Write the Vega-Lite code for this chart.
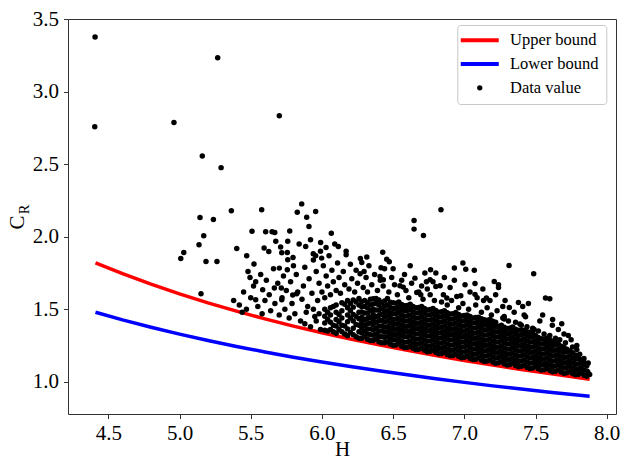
{
"$schema":"https://vega.github.io/schema/vega-lite/v6.json",
"width":548,"height":395,"autosize":"none",
"padding":{"left":68,"top":19,"right":6,"bottom":54},
"background":"white",
"config":{"view":{"stroke":"#333333","strokeWidth":1},"font":"Liberation Serif",
"axis":{"labelFont":"Liberation Serif","labelFontSize":21,"labelColor":"black","titleFont":"Liberation Serif","titleFontSize":21,"titleColor":"black","titleFontWeight":"normal","domain":false,"tickColor":"#333333","tickSize":4.5,"grid":false}},
"datasets":{
"lines":[
{"series":"Upper bound","h":4.41,"c":1.821},{"series":"Upper bound","h":4.6,"c":1.746},{"series":"Upper bound","h":4.8,"c":1.673},{"series":"Upper bound","h":5.0,"c":1.606},{"series":"Upper bound","h":5.2,"c":1.544},{"series":"Upper bound","h":5.4,"c":1.487},{"series":"Upper bound","h":5.6,"c":1.434},{"series":"Upper bound","h":5.8,"c":1.384},{"series":"Upper bound","h":6.0,"c":1.338},{"series":"Upper bound","h":6.2,"c":1.295},{"series":"Upper bound","h":6.4,"c":1.255},{"series":"Upper bound","h":6.6,"c":1.217},{"series":"Upper bound","h":6.8,"c":1.181},{"series":"Upper bound","h":7.0,"c":1.147},{"series":"Upper bound","h":7.2,"c":1.115},{"series":"Upper bound","h":7.4,"c":1.085},{"series":"Upper bound","h":7.6,"c":1.057},{"series":"Upper bound","h":7.88,"c":1.017},
{"series":"Lower bound","h":4.41,"c":1.480},{"series":"Lower bound","h":4.6,"c":1.427},{"series":"Lower bound","h":4.8,"c":1.376},{"series":"Lower bound","h":5.0,"c":1.329},{"series":"Lower bound","h":5.2,"c":1.285},{"series":"Lower bound","h":5.4,"c":1.244},{"series":"Lower bound","h":5.6,"c":1.206},{"series":"Lower bound","h":5.8,"c":1.170},{"series":"Lower bound","h":6.0,"c":1.137},{"series":"Lower bound","h":6.2,"c":1.105},{"series":"Lower bound","h":6.4,"c":1.076},{"series":"Lower bound","h":6.6,"c":1.048},{"series":"Lower bound","h":6.8,"c":1.021},{"series":"Lower bound","h":7.0,"c":0.996},{"series":"Lower bound","h":7.2,"c":0.972},{"series":"Lower bound","h":7.4,"c":0.950},{"series":"Lower bound","h":7.6,"c":0.928},{"series":"Lower bound","h":7.88,"c":0.900}
],
"pts":[
{"h":4.407,"c":3.378},{"h":4.405,"c":2.759},{"h":5.268,"c":3.234},{"h":4.961,"c":2.789},{"h":5.701,"c":2.835},{"h":5.160,"c":2.557},{"h":5.292,"c":2.477},{"h":5.364,"c":2.179},{"h":5.577,"c":2.186},{"h":5.827,"c":2.170},{"h":5.144,"c":2.133},{"h":5.238,"c":2.119},{"h":5.170,"c":2.007},{"h":5.137,"c":1.945},{"h":5.030,"c":1.892},{"h":5.009,"c":1.850},{"h":5.186,"c":1.830},{"h":5.263,"c":1.830},{"h":5.151,"c":1.607},{"h":5.509,"c":2.039},{"h":5.605,"c":2.035},{"h":5.650,"c":2.035},{"h":5.669,"c":2.030},{"h":5.774,"c":2.040},{"h":5.676,"c":1.970},{"h":5.402,"c":1.919},{"h":5.594,"c":1.922},{"h":5.627,"c":1.899},{"h":5.472,"c":1.869},{"h":5.523,"c":1.812},{"h":5.718,"c":1.890},{"h":5.757,"c":1.892},{"h":5.797,"c":1.857},{"h":5.760,"c":1.841},{"h":5.701,"c":1.784},{"h":5.757,"c":1.773},{"h":5.481,"c":1.761},{"h":5.495,"c":1.719},{"h":5.535,"c":1.690},{"h":5.584,"c":1.635},{"h":5.666,"c":1.647},{"h":5.715,"c":1.647},{"h":5.795,"c":1.598},{"h":5.823,"c":1.607},{"h":5.535,"c":1.566},{"h":5.718,"c":1.566},
{"h":5.42,"c":1.53},{"h":5.45,"c":1.62},{"h":5.47,"c":1.50},{"h":5.50,"c":1.58},{"h":5.52,"c":1.66},{"h":5.55,"c":1.52},{"h":5.57,"c":1.74},{"h":5.58,"c":1.47},{"h":5.60,"c":1.56},{"h":5.61,"c":1.70},{"h":5.63,"c":1.60},{"h":5.64,"c":1.49},{"h":5.66,"c":1.78},{"h":5.67,"c":1.54},{"h":5.69,"c":1.68},{"h":5.70,"c":1.46},{"h":5.71,"c":1.93},{"h":5.72,"c":1.58},{"h":5.73,"c":1.73},{"h":5.74,"c":1.50},{"h":5.75,"c":1.63},{"h":5.76,"c":1.97},{"h":5.77,"c":1.44},{"h":5.78,"c":1.69},{"h":5.79,"c":1.54},{"h":5.80,"c":1.80},{"h":5.81,"c":1.47},{"h":5.82,"c":1.74},{"h":5.83,"c":1.62},{"h":5.84,"c":1.95},{"h":5.85,"c":1.42},{"h":5.86,"c":1.57},{"h":5.38,"c":1.56},{"h":5.44,"c":1.48},
{"h":5.858,"c":2.227},{"h":5.893,"c":2.135},{"h":5.909,"c":2.071},{"h":5.956,"c":2.174},{"h":6.066,"c":2.025},{"h":6.115,"c":1.933},{"h":6.029,"c":1.926},{"h":5.991,"c":1.960},{"h":5.939,"c":1.883},{"h":5.956,"c":1.869},{"h":5.998,"c":1.853},{"h":5.886,"c":1.933},{"h":6.170,"c":1.876},{"h":6.280,"c":1.823},{"h":6.315,"c":1.860},{"h":6.427,"c":1.894},{"h":6.455,"c":1.846},{"h":6.473,"c":1.828},{"h":6.415,"c":1.786},{"h":6.296,"c":1.761},{"h":6.268,"c":1.745},{"h":6.408,"c":1.727},{"h":6.431,"c":1.704},{"h":6.548,"c":1.662},{"h":6.571,"c":1.653},{"h":6.653,"c":1.715},{"h":6.723,"c":1.750},{"h":6.763,"c":1.773},{"h":6.800,"c":1.750},{"h":6.760,"c":1.704},{"h":6.734,"c":1.690},{"h":6.830,"c":1.662},{"h":6.800,"c":1.658},{"h":6.666,"c":1.616},{"h":6.694,"c":1.600},{"h":6.740,"c":1.640},{"h":6.853,"c":1.600},{"h":6.877,"c":1.578},{"h":6.947,"c":1.589},{"h":6.975,"c":1.594},
{"h":6.836,"c":2.186},{"h":6.647,"c":2.112},{"h":6.647,"c":2.053},{"h":6.713,"c":2.009},{"h":7.314,"c":1.802},{"h":7.487,"c":1.745},{"h":6.990,"c":1.819},{"h":7.010,"c":1.777},{"h":7.070,"c":1.770},{"h":6.930,"c":1.785},{"h":7.570,"c":1.578},{"h":7.600,"c":1.573},{"h":7.684,"c":1.401},{"h":7.618,"c":1.390},{"h":7.790,"c":1.222},{"h":7.867,"c":1.068},{"h":7.210,"c":1.692},{"h":7.240,"c":1.670},{"h":7.240,"c":1.651},{"h":7.005,"c":1.670},{"h":7.075,"c":1.678},{"h":7.075,"c":1.603},{"h":7.155,"c":1.578},{"h":7.135,"c":1.561},{"h":7.286,"c":1.561},{"h":7.316,"c":1.513},{"h":7.380,"c":1.547},{"h":7.410,"c":1.520},{"h":7.280,"c":1.451},{"h":7.280,"c":1.433},{"h":7.430,"c":1.449},{"h":7.390,"c":1.399},{"h":7.330,"c":1.371},{"h":7.490,"c":1.360},{"h":7.460,"c":1.330},
{"h":5.87,"c":1.66},{"h":5.88,"c":1.79},{"h":5.90,"c":1.52},{"h":5.91,"c":1.71},{"h":5.92,"c":1.98},{"h":5.93,"c":1.61},{"h":5.94,"c":1.84},{"h":5.95,"c":1.45},{"h":5.96,"c":1.76},{"h":5.97,"c":1.56},{"h":5.98,"c":1.68},{"h":5.99,"c":1.90},{"h":6.00,"c":1.62},{"h":6.01,"c":1.80},{"h":6.02,"c":1.58},{"h":6.03,"c":1.73},{"h":6.04,"c":1.66},{"h":6.05,"c":1.87},{"h":6.06,"c":1.60},{"h":6.07,"c":1.77},{"h":6.08,"c":1.69},{"h":6.09,"c":1.95},{"h":6.10,"c":1.63},{"h":6.11,"c":1.82},{"h":6.12,"c":1.72},{"h":6.13,"c":1.61},{"h":6.15,"c":1.76},{"h":6.16,"c":1.67},{"h":6.17,"c":1.90},{"h":6.19,"c":1.64},{"h":6.20,"c":1.81},{"h":6.21,"c":1.71},{"h":6.23,"c":1.62},{"h":6.24,"c":1.77},{"h":6.25,"c":1.68},{"h":6.27,"c":1.85},{"h":6.29,"c":1.65},{"h":6.31,"c":1.72},{"h":6.32,"c":1.62},{"h":6.33,"c":1.80},{"h":6.35,"c":1.67},{"h":6.37,"c":1.74},{"h":6.39,"c":1.63},{"h":6.41,"c":1.70},{"h":6.43,"c":1.66},{"h":6.44,"c":1.78},{"h":6.47,"c":1.62},{"h":6.49,"c":1.72},{"h":6.51,"c":1.67},{"h":6.53,"c":1.60},{"h":6.56,"c":1.70},{"h":6.59,"c":1.63},{"h":6.61,"c":1.58},{"h":6.63,"c":1.68},{"h":6.68,"c":1.62},{"h":6.71,"c":1.57},{"h":6.76,"c":1.60},{"h":6.79,"c":1.56},{"h":6.84,"c":1.55},{"h":6.88,"c":1.53},{"h":6.91,"c":1.56},{"h":6.96,"c":1.51},{"h":6.99,"c":1.54},{"h":7.03,"c":1.50},{"h":7.08,"c":1.53},{"h":7.12,"c":1.48},{"h":7.16,"c":1.51},{"h":7.19,"c":1.46},{"h":7.23,"c":1.49},{"h":7.27,"c":1.44},{"h":7.31,"c":1.42},{"h":7.36,"c":1.41},{"h":7.40,"c":1.39},{"h":7.44,"c":1.38},{"h":7.48,"c":1.37},{"h":7.52,"c":1.35},{"h":7.53,"c":1.42},{"h":7.56,"c":1.33},{"h":7.60,"c":1.32},{"h":7.64,"c":1.30},{"h":7.67,"c":1.29},{"h":7.71,"c":1.27},{"h":7.73,"c":1.32},{"h":7.76,"c":1.24},{"h":7.79,"c":1.25},{"h":7.81,"c":1.19},{"h":7.84,"c":1.16},{"h":7.87,"c":1.13},{"h":7.88,"c":1.05},{"h":6.50,"c":1.78},{"h":6.58,"c":1.74},{"h":6.62,"c":1.80},{"h":6.70,"c":1.66},{"h":6.78,"c":1.69},{"h":6.86,"c":1.72},{"h":6.90,"c":1.65},{"h":6.93,"c":1.70},{"h":7.04,"c":1.62},{"h":7.09,"c":1.58},{"h":7.13,"c":1.64},{"h":7.18,"c":1.56},{"h":7.22,"c":1.60},{"h":7.27,"c":1.52},{"h":7.35,"c":1.48},{"h":7.42,"c":1.46},{"h":7.45,"c":1.54},{"h":7.55,"c":1.46},{"h":7.62,"c":1.43},{"h":7.66,"c":1.36},{"h":7.70,"c":1.33},{"h":7.75,"c":1.29},
{"h":5.88,"c":1.40},{"h":5.92,"c":1.38},{"h":5.96,"c":1.42},{"h":5.99,"c":1.36},{"h":5.89,"c":1.48},{"h":5.94,"c":1.50},{"h":5.98,"c":1.47},
{"h":6.02,"c":1.355},{"h":6.02,"c":1.405},{"h":6.02,"c":1.452},{"h":6.02,"c":1.50},
{"h":6.06,"c":1.36},{"h":6.06,"c":1.41},{"h":6.06,"c":1.46},{"h":6.06,"c":1.51},
{"h":6.10,"c":1.335},{"h":6.10,"c":1.385},{"h":6.10,"c":1.43},{"h":6.10,"c":1.48},{"h":6.10,"c":1.53},
{"h":6.14,"c":1.345},{"h":6.14,"c":1.39},{"h":6.14,"c":1.44},{"h":6.14,"c":1.49},{"h":6.14,"c":1.545},
{"h":6.18,"c":1.318},{"h":6.18,"c":1.365},{"h":6.18,"c":1.415},{"h":6.18,"c":1.46},{"h":6.18,"c":1.51},{"h":6.18,"c":1.56},
{"h":6.22,"c":1.325},{"h":6.22,"c":1.37},{"h":6.22,"c":1.42},{"h":6.22,"c":1.465},{"h":6.22,"c":1.515},{"h":6.22,"c":1.565},
{"h":6.26,"c":1.30},{"h":6.26,"c":1.345},{"h":6.26,"c":1.39},{"h":6.26,"c":1.435},{"h":6.26,"c":1.48},{"h":6.26,"c":1.53},{"h":6.26,"c":1.575},
{"h":6.30,"c":1.31},{"h":6.30,"c":1.35},{"h":6.30,"c":1.39},{"h":6.30,"c":1.43},{"h":6.30,"c":1.475},{"h":6.30,"c":1.52},{"h":6.30,"c":1.56},
{"h":6.34,"c":1.285},{"h":6.34,"c":1.325},{"h":6.34,"c":1.365},{"h":6.34,"c":1.405},{"h":6.34,"c":1.445},{"h":6.34,"c":1.49},{"h":6.34,"c":1.53},{"h":6.34,"c":1.57},
{"h":6.38,"c":1.295},{"h":6.38,"c":1.33},{"h":6.38,"c":1.37},{"h":6.38,"c":1.41},{"h":6.38,"c":1.45},{"h":6.38,"c":1.495},{"h":6.38,"c":1.54},{"h":6.38,"c":1.575},
{"h":6.42,"c":1.27},{"h":6.42,"c":1.31},{"h":6.42,"c":1.35},{"h":6.42,"c":1.385},{"h":6.42,"c":1.425},{"h":6.42,"c":1.465},{"h":6.42,"c":1.505},{"h":6.42,"c":1.545},
{"h":6.46,"c":1.275},{"h":6.46,"c":1.31},{"h":6.46,"c":1.345},{"h":6.46,"c":1.38},{"h":6.46,"c":1.42},{"h":6.46,"c":1.455},{"h":6.46,"c":1.49},{"h":6.46,"c":1.53},{"h":6.46,"c":1.575},
{"h":6.50,"c":1.252},{"h":6.50,"c":1.29},{"h":6.50,"c":1.325},{"h":6.50,"c":1.36},{"h":6.50,"c":1.395},{"h":6.50,"c":1.43},{"h":6.50,"c":1.47},{"h":6.50,"c":1.505},{"h":6.50,"c":1.545},
{"h":6.54,"c":1.262},{"h":6.54,"c":1.297},{"h":6.54,"c":1.333},{"h":6.54,"c":1.37},{"h":6.54,"c":1.405},{"h":6.54,"c":1.44},{"h":6.54,"c":1.478},{"h":6.54,"c":1.515},{"h":6.54,"c":1.55},
{"h":6.58,"c":1.237},{"h":6.58,"c":1.272},{"h":6.58,"c":1.31},{"h":6.58,"c":1.345},{"h":6.58,"c":1.38},{"h":6.58,"c":1.418},{"h":6.58,"c":1.452},{"h":6.58,"c":1.49},{"h":6.58,"c":1.525},
{"h":6.62,"c":1.245},{"h":6.62,"c":1.28},{"h":6.62,"c":1.318},{"h":6.62,"c":1.352},{"h":6.62,"c":1.39},{"h":6.62,"c":1.425},{"h":6.62,"c":1.46},{"h":6.62,"c":1.498},{"h":6.62,"c":1.535},
{"h":6.66,"c":1.222},{"h":6.66,"c":1.258},{"h":6.66,"c":1.294},{"h":6.66,"c":1.33},{"h":6.66,"c":1.366},{"h":6.66,"c":1.402},{"h":6.66,"c":1.438},{"h":6.66,"c":1.474},{"h":6.66,"c":1.51},
{"h":6.70,"c":1.232},{"h":6.70,"c":1.268},{"h":6.70,"c":1.304},{"h":6.70,"c":1.34},{"h":6.70,"c":1.376},{"h":6.70,"c":1.412},{"h":6.70,"c":1.448},{"h":6.70,"c":1.484},{"h":6.70,"c":1.52},
{"h":6.74,"c":1.208},{"h":6.74,"c":1.244},{"h":6.74,"c":1.28},{"h":6.74,"c":1.316},{"h":6.74,"c":1.352},{"h":6.74,"c":1.388},{"h":6.74,"c":1.424},{"h":6.74,"c":1.46},{"h":6.74,"c":1.496},
{"h":6.78,"c":1.218},{"h":6.78,"c":1.254},{"h":6.78,"c":1.29},{"h":6.78,"c":1.326},{"h":6.78,"c":1.362},{"h":6.78,"c":1.398},{"h":6.78,"c":1.434},{"h":6.78,"c":1.47},{"h":6.78,"c":1.505},
{"h":6.82,"c":1.193},{"h":6.82,"c":1.229},{"h":6.82,"c":1.265},{"h":6.82,"c":1.301},{"h":6.82,"c":1.337},{"h":6.82,"c":1.373},{"h":6.82,"c":1.409},{"h":6.82,"c":1.445},{"h":6.82,"c":1.48},
{"h":6.86,"c":1.204},{"h":6.86,"c":1.24},{"h":6.86,"c":1.276},{"h":6.86,"c":1.312},{"h":6.86,"c":1.348},{"h":6.86,"c":1.384},{"h":6.86,"c":1.42},{"h":6.86,"c":1.456},{"h":6.86,"c":1.49},
{"h":6.90,"c":1.18},{"h":6.90,"c":1.216},{"h":6.90,"c":1.252},{"h":6.90,"c":1.288},{"h":6.90,"c":1.324},{"h":6.90,"c":1.36},{"h":6.90,"c":1.396},{"h":6.90,"c":1.432},{"h":6.90,"c":1.468},
{"h":6.94,"c":1.19},{"h":6.94,"c":1.226},{"h":6.94,"c":1.262},{"h":6.94,"c":1.298},{"h":6.94,"c":1.334},{"h":6.94,"c":1.37},{"h":6.94,"c":1.406},{"h":6.94,"c":1.442},{"h":6.94,"c":1.478},
{"h":6.98,"c":1.166},{"h":6.98,"c":1.202},{"h":6.98,"c":1.238},{"h":6.98,"c":1.274},{"h":6.98,"c":1.31},{"h":6.98,"c":1.346},{"h":6.98,"c":1.382},{"h":6.98,"c":1.418},{"h":6.98,"c":1.454},
{"h":7.02,"c":1.177},{"h":7.02,"c":1.213},{"h":7.02,"c":1.249},{"h":7.02,"c":1.285},{"h":7.02,"c":1.321},{"h":7.02,"c":1.357},{"h":7.02,"c":1.393},{"h":7.02,"c":1.429},{"h":7.02,"c":1.46},
{"h":7.06,"c":1.153},{"h":7.06,"c":1.189},{"h":7.06,"c":1.225},{"h":7.06,"c":1.261},{"h":7.06,"c":1.297},{"h":7.06,"c":1.333},{"h":7.06,"c":1.369},{"h":7.06,"c":1.405},{"h":7.06,"c":1.44},
{"h":7.10,"c":1.164},{"h":7.10,"c":1.2},{"h":7.10,"c":1.236},{"h":7.10,"c":1.272},{"h":7.10,"c":1.308},{"h":7.10,"c":1.344},{"h":7.10,"c":1.38},{"h":7.10,"c":1.416},{"h":7.10,"c":1.445},
{"h":7.14,"c":1.141},{"h":7.14,"c":1.177},{"h":7.14,"c":1.213},{"h":7.14,"c":1.249},{"h":7.14,"c":1.285},{"h":7.14,"c":1.321},{"h":7.14,"c":1.357},{"h":7.14,"c":1.393},{"h":7.14,"c":1.428},
{"h":7.18,"c":1.151},{"h":7.18,"c":1.187},{"h":7.18,"c":1.223},{"h":7.18,"c":1.259},{"h":7.18,"c":1.295},{"h":7.18,"c":1.331},{"h":7.18,"c":1.367},{"h":7.18,"c":1.403},{"h":7.18,"c":1.43},
{"h":7.22,"c":1.128},{"h":7.22,"c":1.164},{"h":7.22,"c":1.2},{"h":7.22,"c":1.236},{"h":7.22,"c":1.272},{"h":7.22,"c":1.308},{"h":7.22,"c":1.344},{"h":7.22,"c":1.38},{"h":7.22,"c":1.41},
{"h":7.26,"c":1.139},{"h":7.26,"c":1.175},{"h":7.26,"c":1.211},{"h":7.26,"c":1.247},{"h":7.26,"c":1.283},{"h":7.26,"c":1.319},{"h":7.26,"c":1.355},{"h":7.26,"c":1.39},
{"h":7.30,"c":1.116},{"h":7.30,"c":1.152},{"h":7.30,"c":1.188},{"h":7.30,"c":1.224},{"h":7.30,"c":1.26},{"h":7.30,"c":1.296},{"h":7.30,"c":1.332},{"h":7.30,"c":1.368},
{"h":7.34,"c":1.127},{"h":7.34,"c":1.163},{"h":7.34,"c":1.199},{"h":7.34,"c":1.235},{"h":7.34,"c":1.271},{"h":7.34,"c":1.307},{"h":7.34,"c":1.343},{"h":7.34,"c":1.378},
{"h":7.38,"c":1.104},{"h":7.38,"c":1.14},{"h":7.38,"c":1.176},{"h":7.38,"c":1.212},{"h":7.38,"c":1.248},{"h":7.38,"c":1.284},{"h":7.38,"c":1.32},{"h":7.38,"c":1.356},
{"h":7.42,"c":1.115},{"h":7.42,"c":1.151},{"h":7.42,"c":1.187},{"h":7.42,"c":1.223},{"h":7.42,"c":1.259},{"h":7.42,"c":1.295},{"h":7.42,"c":1.331},{"h":7.42,"c":1.355},
{"h":7.46,"c":1.092},{"h":7.46,"c":1.128},{"h":7.46,"c":1.164},{"h":7.46,"c":1.2},{"h":7.46,"c":1.236},{"h":7.46,"c":1.272},{"h":7.46,"c":1.308},{"h":7.46,"c":1.342},
{"h":7.50,"c":1.104},{"h":7.50,"c":1.14},{"h":7.50,"c":1.176},{"h":7.50,"c":1.212},{"h":7.50,"c":1.248},{"h":7.50,"c":1.284},{"h":7.50,"c":1.32},
{"h":7.54,"c":1.081},{"h":7.54,"c":1.117},{"h":7.54,"c":1.153},{"h":7.54,"c":1.189},{"h":7.54,"c":1.225},{"h":7.54,"c":1.261},{"h":7.54,"c":1.297},
{"h":7.58,"c":1.092},{"h":7.58,"c":1.128},{"h":7.58,"c":1.164},{"h":7.58,"c":1.2},{"h":7.58,"c":1.236},{"h":7.58,"c":1.272},{"h":7.58,"c":1.30},
{"h":7.62,"c":1.07},{"h":7.62,"c":1.106},{"h":7.62,"c":1.142},{"h":7.62,"c":1.178},{"h":7.62,"c":1.214},{"h":7.62,"c":1.25},{"h":7.62,"c":1.28},
{"h":7.66,"c":1.081},{"h":7.66,"c":1.117},{"h":7.66,"c":1.153},{"h":7.66,"c":1.189},{"h":7.66,"c":1.225},{"h":7.66,"c":1.26},
{"h":7.70,"c":1.059},{"h":7.70,"c":1.095},{"h":7.70,"c":1.131},{"h":7.70,"c":1.167},{"h":7.70,"c":1.203},{"h":7.70,"c":1.238},
{"h":7.74,"c":1.07},{"h":7.74,"c":1.106},{"h":7.74,"c":1.142},{"h":7.74,"c":1.178},{"h":7.74,"c":1.214},
{"h":7.78,"c":1.048},{"h":7.78,"c":1.084},{"h":7.78,"c":1.12},{"h":7.78,"c":1.156},{"h":7.78,"c":1.185},
{"h":7.82,"c":1.06},{"h":7.82,"c":1.096},{"h":7.82,"c":1.132},{"h":7.82,"c":1.15},
{"h":7.86,"c":1.038},{"h":7.86,"c":1.074},{"h":7.86,"c":1.11},
{"h":6.04,"c":1.35},{"h":6.04,"c":1.43},{"h":6.04,"c":1.48},{"h":6.08,"c":1.345},{"h":6.08,"c":1.39},{"h":6.08,"c":1.52},{"h":6.12,"c":1.36},{"h":6.12,"c":1.415},{"h":6.12,"c":1.465},{"h":6.16,"c":1.33},{"h":6.16,"c":1.385},{"h":6.16,"c":1.535},{"h":6.20,"c":1.34},{"h":6.20,"c":1.44},{"h":6.20,"c":1.49},{"h":6.20,"c":1.54},{"h":6.24,"c":1.31},{"h":6.24,"c":1.395},{"h":6.24,"c":1.45},{"h":6.24,"c":1.55},
{"h":6.28,"c":1.301},{"h":6.28,"c":1.337},{"h":6.28,"c":1.373},{"h":6.28,"c":1.409},{"h":6.28,"c":1.445},{"h":6.28,"c":1.481},{"h":6.28,"c":1.517},{"h":6.28,"c":1.553},
{"h":6.32,"c":1.293},{"h":6.32,"c":1.329},{"h":6.32,"c":1.365},{"h":6.32,"c":1.401},{"h":6.32,"c":1.437},{"h":6.32,"c":1.473},{"h":6.32,"c":1.509},{"h":6.32,"c":1.545},
{"h":6.36,"c":1.285},{"h":6.36,"c":1.321},{"h":6.36,"c":1.357},{"h":6.36,"c":1.393},{"h":6.36,"c":1.429},{"h":6.36,"c":1.465},{"h":6.36,"c":1.501},{"h":6.36,"c":1.537},{"h":6.36,"c":1.573},
{"h":6.40,"c":1.277},{"h":6.40,"c":1.313},{"h":6.40,"c":1.349},{"h":6.40,"c":1.385},{"h":6.40,"c":1.421},{"h":6.40,"c":1.457},{"h":6.40,"c":1.493},{"h":6.40,"c":1.529},{"h":6.40,"c":1.565},
{"h":6.44,"c":1.269},{"h":6.44,"c":1.305},{"h":6.44,"c":1.341},{"h":6.44,"c":1.377},{"h":6.44,"c":1.413},{"h":6.44,"c":1.449},{"h":6.44,"c":1.485},{"h":6.44,"c":1.521},{"h":6.44,"c":1.557},
{"h":6.48,"c":1.261},{"h":6.48,"c":1.297},{"h":6.48,"c":1.333},{"h":6.48,"c":1.369},{"h":6.48,"c":1.405},{"h":6.48,"c":1.441},{"h":6.48,"c":1.477},{"h":6.48,"c":1.513},{"h":6.48,"c":1.549},
{"h":6.52,"c":1.254},{"h":6.52,"c":1.29},{"h":6.52,"c":1.326},{"h":6.52,"c":1.362},{"h":6.52,"c":1.398},{"h":6.52,"c":1.434},{"h":6.52,"c":1.47},{"h":6.52,"c":1.506},{"h":6.52,"c":1.542},
{"h":6.56,"c":1.246},{"h":6.56,"c":1.282},{"h":6.56,"c":1.318},{"h":6.56,"c":1.354},{"h":6.56,"c":1.39},{"h":6.56,"c":1.426},{"h":6.56,"c":1.462},{"h":6.56,"c":1.498},{"h":6.56,"c":1.534},
{"h":6.60,"c":1.239},{"h":6.60,"c":1.275},{"h":6.60,"c":1.311},{"h":6.60,"c":1.347},{"h":6.60,"c":1.383},{"h":6.60,"c":1.419},{"h":6.60,"c":1.455},{"h":6.60,"c":1.491},{"h":6.60,"c":1.527},
{"h":6.64,"c":1.231},{"h":6.64,"c":1.267},{"h":6.64,"c":1.303},{"h":6.64,"c":1.339},{"h":6.64,"c":1.375},{"h":6.64,"c":1.411},{"h":6.64,"c":1.447},{"h":6.64,"c":1.483},{"h":6.64,"c":1.519},
{"h":6.68,"c":1.224},{"h":6.68,"c":1.26},{"h":6.68,"c":1.296},{"h":6.68,"c":1.332},{"h":6.68,"c":1.368},{"h":6.68,"c":1.404},{"h":6.68,"c":1.44},{"h":6.68,"c":1.476},{"h":6.68,"c":1.512},
{"h":6.72,"c":1.217},{"h":6.72,"c":1.253},{"h":6.72,"c":1.289},{"h":6.72,"c":1.325},{"h":6.72,"c":1.361},{"h":6.72,"c":1.397},{"h":6.72,"c":1.433},{"h":6.72,"c":1.469},{"h":6.72,"c":1.505},
{"h":6.76,"c":1.21},{"h":6.76,"c":1.246},{"h":6.76,"c":1.282},{"h":6.76,"c":1.318},{"h":6.76,"c":1.354},{"h":6.76,"c":1.39},{"h":6.76,"c":1.426},{"h":6.76,"c":1.462},{"h":6.76,"c":1.498},
{"h":6.80,"c":1.203},{"h":6.80,"c":1.239},{"h":6.80,"c":1.275},{"h":6.80,"c":1.311},{"h":6.80,"c":1.347},{"h":6.80,"c":1.383},{"h":6.80,"c":1.419},{"h":6.80,"c":1.455},{"h":6.80,"c":1.491},
{"h":6.84,"c":1.196},{"h":6.84,"c":1.232},{"h":6.84,"c":1.268},{"h":6.84,"c":1.304},{"h":6.84,"c":1.34},{"h":6.84,"c":1.376},{"h":6.84,"c":1.412},{"h":6.84,"c":1.448},{"h":6.84,"c":1.484},
{"h":6.88,"c":1.189},{"h":6.88,"c":1.225},{"h":6.88,"c":1.261},{"h":6.88,"c":1.297},{"h":6.88,"c":1.333},{"h":6.88,"c":1.369},{"h":6.88,"c":1.405},{"h":6.88,"c":1.441},{"h":6.88,"c":1.477},
{"h":6.92,"c":1.182},{"h":6.92,"c":1.218},{"h":6.92,"c":1.254},{"h":6.92,"c":1.29},{"h":6.92,"c":1.326},{"h":6.92,"c":1.362},{"h":6.92,"c":1.398},{"h":6.92,"c":1.434},{"h":6.92,"c":1.47},
{"h":6.96,"c":1.176},{"h":6.96,"c":1.212},{"h":6.96,"c":1.248},{"h":6.96,"c":1.284},{"h":6.96,"c":1.32},{"h":6.96,"c":1.356},{"h":6.96,"c":1.392},{"h":6.96,"c":1.428},{"h":6.96,"c":1.464},
{"h":7.00,"c":1.169},{"h":7.00,"c":1.205},{"h":7.00,"c":1.241},{"h":7.00,"c":1.277},{"h":7.00,"c":1.313},{"h":7.00,"c":1.349},{"h":7.00,"c":1.385},{"h":7.00,"c":1.421},{"h":7.00,"c":1.457},
{"h":7.04,"c":1.163},{"h":7.04,"c":1.199},{"h":7.04,"c":1.235},{"h":7.04,"c":1.271},{"h":7.04,"c":1.307},{"h":7.04,"c":1.343},{"h":7.04,"c":1.379},{"h":7.04,"c":1.415},{"h":7.04,"c":1.45},
{"h":7.08,"c":1.156},{"h":7.08,"c":1.192},{"h":7.08,"c":1.228},{"h":7.08,"c":1.264},{"h":7.08,"c":1.3},{"h":7.08,"c":1.336},{"h":7.08,"c":1.372},{"h":7.08,"c":1.408},{"h":7.08,"c":1.444},
{"h":7.12,"c":1.15},{"h":7.12,"c":1.186},{"h":7.12,"c":1.222},{"h":7.12,"c":1.258},{"h":7.12,"c":1.294},{"h":7.12,"c":1.33},{"h":7.12,"c":1.366},{"h":7.12,"c":1.402},{"h":7.12,"c":1.435},
{"h":7.16,"c":1.144},{"h":7.16,"c":1.18},{"h":7.16,"c":1.216},{"h":7.16,"c":1.252},{"h":7.16,"c":1.288},{"h":7.16,"c":1.324},{"h":7.16,"c":1.36},{"h":7.16,"c":1.396},{"h":7.16,"c":1.425},
{"h":7.20,"c":1.137},{"h":7.20,"c":1.173},{"h":7.20,"c":1.209},{"h":7.20,"c":1.245},{"h":7.20,"c":1.281},{"h":7.20,"c":1.317},{"h":7.20,"c":1.353},{"h":7.20,"c":1.389},{"h":7.20,"c":1.418},
{"h":7.24,"c":1.131},{"h":7.24,"c":1.167},{"h":7.24,"c":1.203},{"h":7.24,"c":1.239},{"h":7.24,"c":1.275},{"h":7.24,"c":1.311},{"h":7.24,"c":1.347},{"h":7.24,"c":1.383},
{"h":7.28,"c":1.125},{"h":7.28,"c":1.161},{"h":7.28,"c":1.197},{"h":7.28,"c":1.233},{"h":7.28,"c":1.269},{"h":7.28,"c":1.305},{"h":7.28,"c":1.341},{"h":7.28,"c":1.377},
{"h":7.32,"c":1.119},{"h":7.32,"c":1.155},{"h":7.32,"c":1.191},{"h":7.32,"c":1.227},{"h":7.32,"c":1.263},{"h":7.32,"c":1.299},{"h":7.32,"c":1.335},{"h":7.32,"c":1.37},
{"h":7.36,"c":1.113},{"h":7.36,"c":1.149},{"h":7.36,"c":1.185},{"h":7.36,"c":1.221},{"h":7.36,"c":1.257},{"h":7.36,"c":1.293},{"h":7.36,"c":1.329},{"h":7.36,"c":1.362},
{"h":7.40,"c":1.107},{"h":7.40,"c":1.143},{"h":7.40,"c":1.179},{"h":7.40,"c":1.215},{"h":7.40,"c":1.251},{"h":7.40,"c":1.287},{"h":7.40,"c":1.323},{"h":7.40,"c":1.355},
{"h":7.44,"c":1.101},{"h":7.44,"c":1.137},{"h":7.44,"c":1.173},{"h":7.44,"c":1.209},{"h":7.44,"c":1.245},{"h":7.44,"c":1.281},{"h":7.44,"c":1.317},{"h":7.44,"c":1.345},
{"h":7.48,"c":1.096},{"h":7.48,"c":1.132},{"h":7.48,"c":1.168},{"h":7.48,"c":1.204},{"h":7.48,"c":1.24},{"h":7.48,"c":1.276},{"h":7.48,"c":1.312},{"h":7.48,"c":1.335},
{"h":7.52,"c":1.09},{"h":7.52,"c":1.126},{"h":7.52,"c":1.162},{"h":7.52,"c":1.198},{"h":7.52,"c":1.234},{"h":7.52,"c":1.27},{"h":7.52,"c":1.305},
{"h":7.56,"c":1.084},{"h":7.56,"c":1.12},{"h":7.56,"c":1.156},{"h":7.56,"c":1.192},{"h":7.56,"c":1.228},{"h":7.56,"c":1.264},{"h":7.56,"c":1.295},
{"h":7.60,"c":1.079},{"h":7.60,"c":1.115},{"h":7.60,"c":1.151},{"h":7.60,"c":1.187},{"h":7.60,"c":1.223},{"h":7.60,"c":1.259},{"h":7.60,"c":1.288},
{"h":7.64,"c":1.073},{"h":7.64,"c":1.109},{"h":7.64,"c":1.145},{"h":7.64,"c":1.181},{"h":7.64,"c":1.217},{"h":7.64,"c":1.253},{"h":7.64,"c":1.27},
{"h":7.68,"c":1.068},{"h":7.68,"c":1.104},{"h":7.68,"c":1.14},{"h":7.68,"c":1.176},{"h":7.68,"c":1.212},{"h":7.68,"c":1.245},
{"h":7.72,"c":1.062},{"h":7.72,"c":1.098},{"h":7.72,"c":1.134},{"h":7.72,"c":1.17},{"h":7.72,"c":1.206},{"h":7.72,"c":1.225},
{"h":7.76,"c":1.057},{"h":7.76,"c":1.093},{"h":7.76,"c":1.129},{"h":7.76,"c":1.165},{"h":7.76,"c":1.2},
{"h":7.80,"c":1.051},{"h":7.80,"c":1.087},{"h":7.80,"c":1.123},{"h":7.80,"c":1.159},{"h":7.80,"c":1.17},
{"h":7.84,"c":1.046},{"h":7.84,"c":1.082},{"h":7.84,"c":1.118},{"h":7.84,"c":1.135}
]},
"layer":[
{"data":{"name":"lines"},"mark":{"type":"line","strokeWidth":3.5},
"encoding":{
"x":{"field":"h","type":"quantitative","scale":{"domain":[4.217,8.065],"nice":false,"zero":false},"axis":{"title":"H","values":[4.5,5.0,5.5,6.0,6.5,7.0,7.5,8.0],"format":".1f","labelPadding":3.5,"titleY":41,"titleBaseline":"alphabetic"}},
"y":{"field":"c","type":"quantitative","scale":{"domain":[0.778,3.502],"nice":false,"zero":false},"axis":{"title":"C","values":[1.0,1.5,2.0,2.5,3.0,3.5],"format":".1f","labelPadding":5,"titleX":-45,"titleY":203,"titleAlign":"center","titleBaseline":"alphabetic","titleAngle":270}},
"color":{"field":"series","type":"nominal","scale":{"domain":["Upper bound","Lower bound","Data value"],"range":["#ff0000","#0000ff","#000000"]},
"legend":{"title":null,"orient":"none","legendX":389.3,"legendY":6,"labelFont":"Liberation Serif","labelFontSize":16.5,"labelColor":"black","fillColor":"white","strokeColor":"#c8c8c8","cornerRadius":3,"padding":7,"symbolSize":1444,"symbolStrokeWidth":4,"symbolType":"stroke","symbolOffset":7.2,"labelOffset":22,"rowPadding":6.8,
"encode":{"symbols":{"update":{
"shape":{"signal":"datum.value === 'Data value' ? 'circle' : 'stroke'"},
"size":{"signal":"datum.value === 'Data value' ? 28 : 1444"},
"strokeWidth":{"signal":"datum.value === 'Data value' ? 0 : 4"},
"fill":{"signal":"datum.value === 'Data value' ? '#000000' : 'transparent'"},
"stroke":{"signal":"datum.value === 'Upper bound' ? '#ff0000' : (datum.value === 'Lower bound' ? '#0000ff' : '#000000')"},
"opacity":{"value":1}}}}}}}},
{"data":{"name":"pts"},"mark":{"type":"circle","size":30,"opacity":1},
"encoding":{
"x":{"field":"h","type":"quantitative","scale":{"domain":[4.217,8.065],"nice":false,"zero":false},"axis":{"title":"H","values":[4.5,5.0,5.5,6.0,6.5,7.0,7.5,8.0],"format":".1f","labelPadding":3.5,"titleY":41,"titleBaseline":"alphabetic"}},
"y":{"field":"c","type":"quantitative","axis":{"orient":"left","title":"R","labels":false,"ticks":false,"domain":false,"titleFontSize":14.5,"titleX":-40,"titleY":190,"titleAlign":"center","titleBaseline":"alphabetic","titleAngle":270}},
"color":{"datum":"Data value"}}}
],
"resolve":{"axis":{"y":"independent"}}
}
